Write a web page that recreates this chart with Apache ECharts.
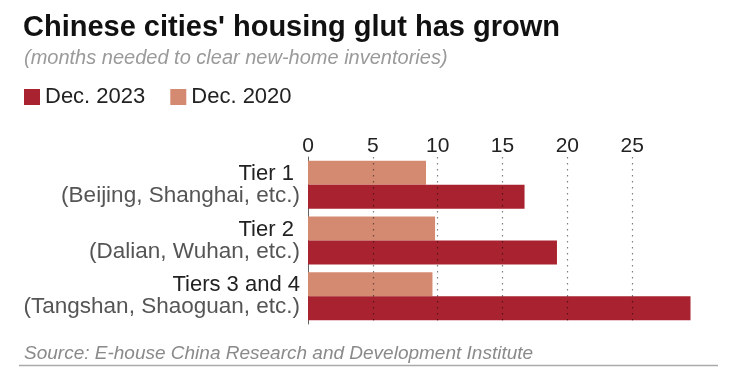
<!DOCTYPE html>
<html>
<head>
<meta charset="utf-8">
<script src="https://cdn.jsdelivr.net/npm/echarts@6/dist/echarts.min.js"></script>
<style>
html,body{margin:0;padding:0;background:#fff;}
#chart{width:749px;height:387px;}
</style>
</head>
<body>
<div id="chart"></div>
<script>
// ---- data ----
var tierNames = ['Tier 1 ', 'Tier 2 ', 'Tiers 3 and 4'];
var tierCities = ['(Beijing, Shanghai, etc.)', '(Dalian, Wuhan, etc.)', '(Tangshan, Shaoguan, etc.)'];
var seriesNames = ['Dec. 2023', 'Dec. 2020'];
var dec2023 = [16.7, 19.2, 29.5];
var dec2020 = [9.1, 9.8, 9.6];
var gridValues = [5, 10, 15, 20, 25];

var FONT = '"Liberation Sans", Arial, sans-serif';
var categories = tierNames.map(function (n, i) { return n + '|' + tierCities[i]; });

var chart = echarts.init(document.getElementById('chart'), null, {renderer: 'canvas'});
chart.setOption({
  backgroundColor: '#fff',
  animation: false,
  textStyle: {fontFamily: FONT},
  title: [
    {text: "Chinese cities' housing glut has grown", left: 18, top: 8,
     textStyle: {fontFamily: FONT, fontSize: 29, fontWeight: 'bold', color: '#111'}},
    {text: '(months needed to clear new-home inventories)', left: 19, top: 43,
     textStyle: {fontFamily: FONT, fontSize: 20, fontStyle: 'italic', fontWeight: 'normal', color: '#9a9a9a'}},
    {text: 'Source: E-house China Research and Development Institute', left: 19, top: 339,
     textStyle: {fontFamily: FONT, fontSize: 19, fontStyle: 'italic', fontWeight: 'normal', color: '#8a8a8a'}}
  ],
  graphic: [
    {type: 'line', shape: {x1: 19, y1: 365.5, x2: 718, y2: 365.5},
     style: {stroke: '#aaaaaa', lineWidth: 1.5}}
  ],
  legend: {
    data: seriesNames,
    left: 19, top: 81,
    itemWidth: 16, itemHeight: 16, itemGap: 25,
    icon: 'rect',
    textStyle: {fontFamily: FONT, fontSize: 22, color: '#222'}
  },
  grid: {left: 308, top: 157, right: 52, bottom: 63, containLabel: false},
  xAxis: {
    type: 'value', position: 'top', min: 0, max: 30, interval: 5,
    axisLine: {show: false}, axisTick: {show: false},
    splitLine: {show: false},
    axisLabel: {showMaxLabel: false, fontFamily: FONT, fontSize: 21, color: '#222', margin: 0}
  },
  yAxis: {
    type: 'category', inverse: true, data: categories,
    axisLine: {show: true, lineStyle: {color: '#666', width: 1}},
    axisTick: {show: false},
    axisLabel: {
      margin: 8, align: 'right',
      formatter: function (v) {
        var p = v.split('|');
        return '{a|' + p[0] + '}\n{b|' + p[1] + '}';
      },
      rich: {
        a: {fontFamily: FONT, fontSize: 22, color: '#222', lineHeight: 22, align: 'right'},
        b: {fontFamily: FONT, fontSize: 22.5, color: '#555', lineHeight: 22, align: 'right'}
      }
    }
  },
  series: [
    {name: seriesNames[1], type: 'bar', data: dec2020, barWidth: 24, barGap: '0%',
     itemStyle: {color: '#D48A71'}, z: 2},
    {name: seriesNames[0], type: 'bar', data: dec2023, barWidth: 24, barGap: '0%',
     itemStyle: {color: '#A8232F'}, z: 3,
     markLine: {
       silent: true, symbol: 'none', label: {show: false},
       lineStyle: {color: 'rgba(0,0,0,0.5)', type: [1.5, 4.5], width: 1.2},
       data: gridValues.map(function (g) { return {xAxis: g}; })
     }}
  ]
});
</script>
</body>
</html>
